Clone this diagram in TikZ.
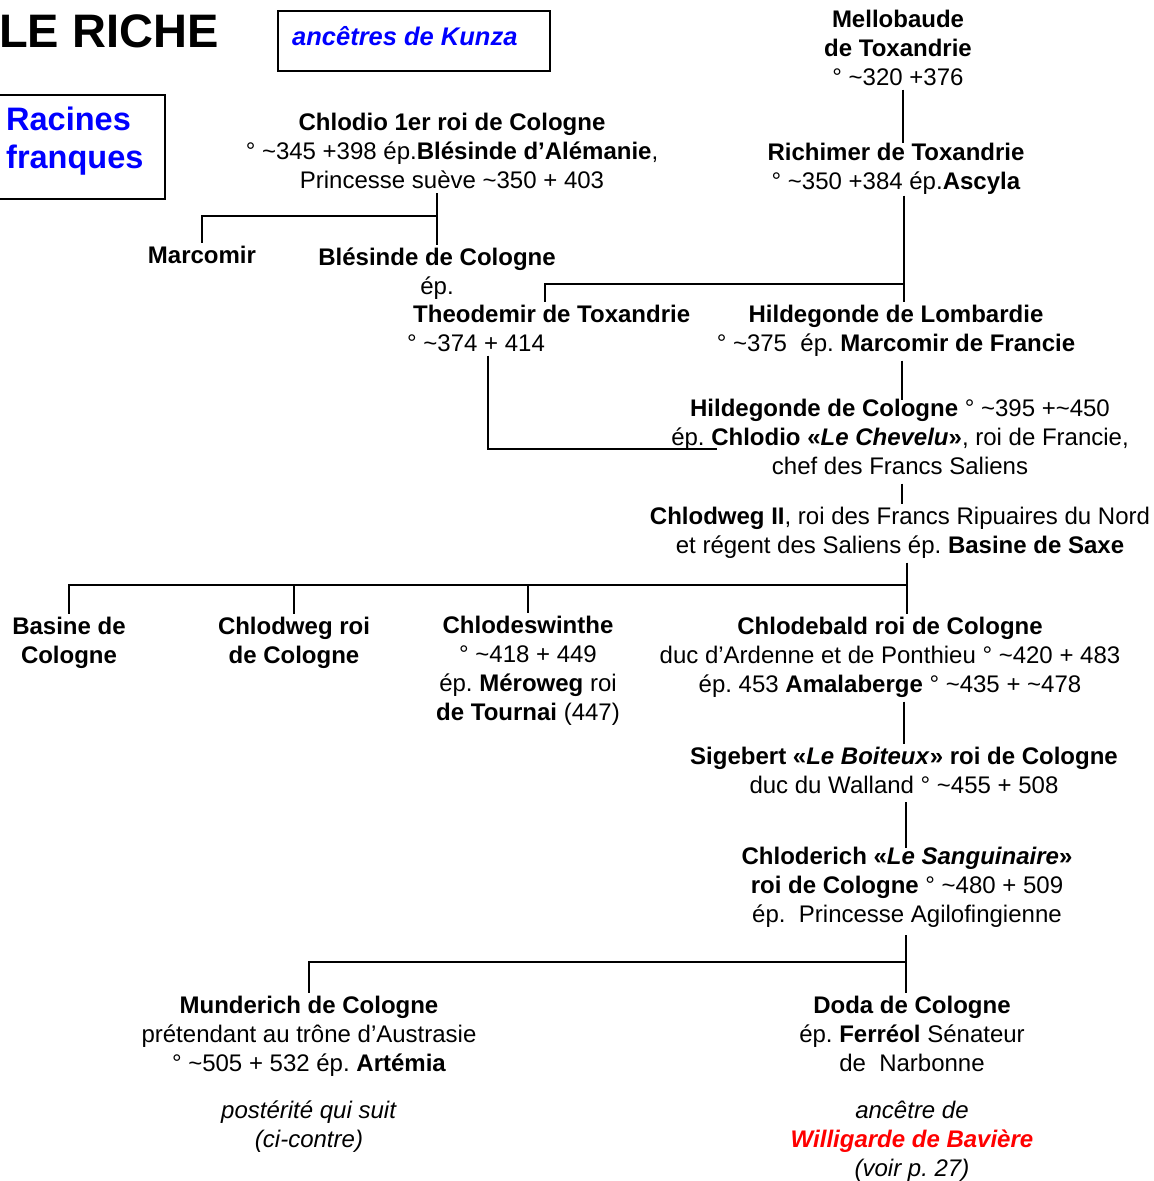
\documentclass[tikz,border=0pt]{standalone}
\usepackage{fontspec}
\setmainfont{Liberation Sans}
\newcommand\tld{\textasciitilde}
\newcommand\sn{\strut}
\frenchspacing
\definecolor{kblue}{RGB}{0,0,255}
\definecolor{kred}{RGB}{255,0,0}
\begin{document}
\begin{tikzpicture}[x=1pt,y=-1pt]
\tikzset{
  txt/.style={align=center, inner sep=0pt, font=\fontsize{24}{29}\selectfont},
  lnk/.style={line width=2pt},
  framebox/.style={draw, line width=2pt, inner sep=0pt, anchor=north west}
}
\useasboundingbox[fill=white] (0,0) rectangle (1154,1181);

% title and boxes
\node[anchor=west, inner sep=0pt, font=\fontsize{47}{50}\selectfont\bfseries] (title) at (-1,31) {LE RICHE};
\node[framebox, minimum width=272pt, minimum height=60pt] (kunza) at (277,10) {};
\node[anchor=west, inner sep=0pt, font=\fontsize{25.5}{29}\selectfont\bfseries\itshape, text=kblue] (kunzat) at (292,36) {ancêtres de Kunza};
\node[framebox, minimum width=166pt, minimum height=104pt] (racines) at (-2,94) {};
\node[anchor=west, align=left, inner sep=0pt, font=\fontsize{32.5}{38}\selectfont\bfseries, text=kblue] (racinest) at (6,141) {Racines\\franques};

% persons
\node[txt] (mello) at (898,50.8) {\sn\textbf{Mellobaude}\\\textbf{de Toxandrie}\\° \tld320 +376\sn};
\node[txt] (richimer) at (896,169.3) {\sn\textbf{Richimer de Toxandrie}\\° \tld350 +384 ép.\textbf{Ascyla}\sn};
\node[txt] (chlodio) at (452,153.3) {\sn\textbf{Chlodio 1er roi de Cologne}\\° \tld345 +398 ép.\textbf{Blésinde d’Alémanie},\\Princesse suève \tld350 + 403\sn};
\node[txt] (marcomir) at (202,257.8) {\sn\textbf{Marcomir}};
\node[txt] (blesinde) at (437,274.3) {\sn\textbf{Blésinde de Cologne}\\ép.\sn};
\node[txt, align=left, anchor=west] (theo) at (407,331.3) {\sn\hspace*{6pt}\textbf{Theodemir de Toxandrie}\\° \tld374 + 414\sn};
\node[txt] (hlomb) at (896,331.3) {\sn\textbf{Hildegonde de Lombardie}\\° \tld375\ \ ép. \textbf{Marcomir de Francie}\sn};
\node[txt] (hcol) at (900,439.8) {\sn\textbf{Hildegonde de Cologne} ° \tld395 +\tld450\\ép. \textbf{Chlodio «\textit{Le Chevelu}»}, roi de Francie,\\chef des Francs Saliens\sn};
\node[txt] (chlodweg2) at (900,533.3) {\sn\textbf{Chlodweg II}, roi des Francs Ripuaires du Nord\\et régent des Saliens ép. \textbf{Basine de Saxe}\sn};
\node[txt] (basine) at (69,643.3) {\sn\textbf{Basine de}\\\textbf{Cologne}\sn};
\node[txt] (chlodwegroi) at (294,643.3) {\sn\textbf{Chlodweg roi}\\\textbf{de Cologne}\sn};
\node[txt] (chlodes) at (528,670.8) {\sn\textbf{Chlodeswinthe}\\° \tld418 + 449\\ép. \textbf{Méroweg} roi\\\textbf{de Tournai} (447)\sn};
\node[txt] (chlodebald) at (890,657.8) {\sn\textbf{Chlodebald roi de Cologne}\\duc d’Ardenne et de Ponthieu ° \tld420 + 483\\ép. 453 \textbf{Amalaberge} ° \tld435 + \tld478\sn};
\node[txt] (sigebert) at (904,772.8) {\sn\textbf{Sigebert «\textit{Le Boiteux}» roi de Cologne}\\duc du Walland ° \tld455 + 508\sn};
\node[txt] (chloderich) at (907,887.3) {\sn\textbf{Chloderich «\textit{Le Sanguinaire}»}\\\textbf{roi de Cologne} ° \tld480 + 509\\ép.\ \ Princesse Agilofingienne\sn};
\node[txt] (munderich) at (309,1036.3) {\sn\textbf{Munderich de Cologne}\\prétendant au trône d’Austrasie\\° \tld505 + 532 ép. \textbf{Artémia}\sn};
\node[txt] (posterite) at (309,1127.3) {\sn\textit{postérité qui suit}\\\textit{(ci-contre)}\sn};
\node[txt] (doda) at (912,1036.3) {\sn\textbf{Doda de Cologne}\\ép. \textbf{Ferréol} Sénateur\\de\ \ Narbonne\sn};
\node[txt] (ancetre) at (912,1141.8) {\sn\textit{ancêtre de}\\\textcolor{kred}{\textbf{\textit{Willigarde de Bavière}}}\\\textit{(voir p. 27)}\sn};

% connector helper coordinates
\coordinate (x903) at (903,0);
\coordinate (x902) at (902,0);
\coordinate (x904) at (904,0);
\coordinate (x545) at (545,0);
\coordinate (x488) at (488,0);
\coordinate (j0) at (437,216);
\coordinate (jR) at (904,284);
\coordinate (mar) at (717,449);
\coordinate (jC) at (907,585);
\coordinate (jD) at (906,962);

% connectors
\draw[lnk, shorten <=-5pt, shorten >=-3pt] (mello.south -| x903) -- (richimer.north -| x903);
\draw[lnk, shorten <=-4pt] (chlodio.south -| blesinde.north) -- (blesinde.north);
\draw[lnk] (j0) -| (marcomir.north);
\draw[lnk, shorten <=-3pt] (richimer.south -| jR) -- (hlomb.north -| jR);
\draw[lnk] (jR) -| (theo.north -| x545);
\draw[lnk, shorten <=-5pt] (theo.south -| x488) |- (mar);
\draw[lnk, shorten >=-4pt] (hlomb.south -| x902) -- (hcol.north -| x902);
\draw[lnk] (hcol.south -| x902) -- (chlodweg2.north -| x902);
\draw[lnk] (chlodweg2.south -| jC) -- (chlodebald.north -| jC);
\draw[lnk] (jC) -| (basine.north);
\draw[lnk] (jC -| chlodwegroi.north) -- (chlodwegroi.north);
\draw[lnk] (jC -| chlodes.north) -- (chlodes.north);
\draw[lnk] (chlodebald.south -| x904) -- (sigebert.north -| x904);
\draw[lnk, shorten >=-4pt] (sigebert.south -| jD) -- (chloderich.north -| jD);
\draw[lnk, shorten <=4pt] (chloderich.south -| jD) -- (doda.north -| jD);
\draw[lnk] (jD) -| (munderich.north);
\end{tikzpicture}
\end{document}
